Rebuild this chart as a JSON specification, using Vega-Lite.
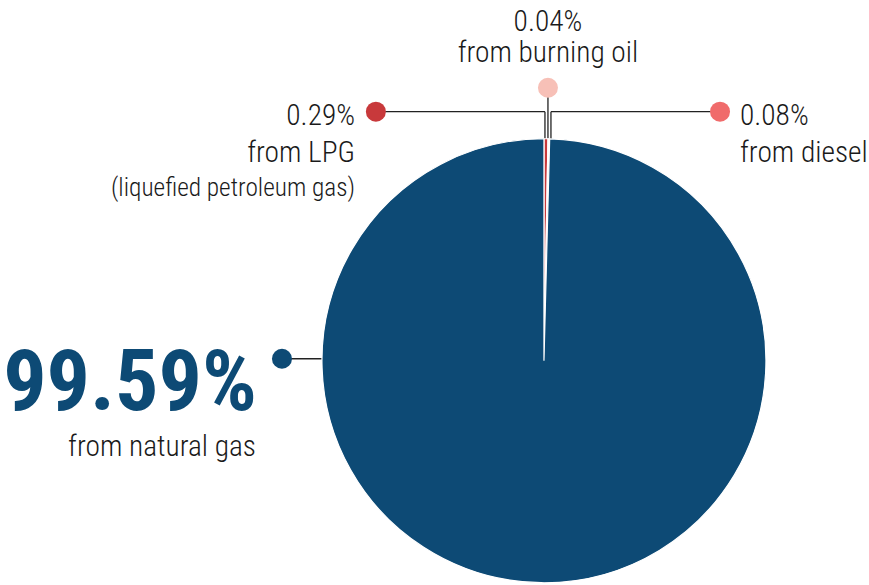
{
  "$schema": "https://vega.github.io/schema/vega-lite/v6.json",
  "width": 869,
  "height": 585,
  "autosize": {"type": "fit", "contains": "padding"},
  "padding": 0,
  "background": "white",
  "config": {"view": {"stroke": null}, "text": {"font": "Roboto Condensed, Liberation Sans Narrow, Roboto"}},
  "layer": [
    {
      "data": {"values": [
        {"x1": -0.757, "y1": 1.126, "x2": 0.0045, "y2": 1.126},
        {"x1": 0.0045, "y1": 1.126, "x2": 0.0045, "y2": 0.99},
        {"x1": 0.018, "y1": 1.234, "x2": 0.018, "y2": 0.99},
        {"x1": 0.793, "y1": 1.126, "x2": 0.0315, "y2": 1.126},
        {"x1": 0.0315, "y1": 1.126, "x2": 0.0315, "y2": 0.99},
        {"x1": -1.18, "y1": 0.009, "x2": -1.0, "y2": 0.009}
      ]},
      "mark": {"type": "rule", "color": "#222222", "strokeWidth": 1.3},
      "encoding": {
        "x": {"field": "x1", "type": "quantitative", "scale": {"domain": [-2.45, 1.464], "nice": false, "zero": false}, "axis": null},
        "y": {"field": "y1", "type": "quantitative", "scale": {"domain": [-1.005, 1.631], "nice": false, "zero": false}, "axis": null},
        "x2": {"field": "x2"},
        "y2": {"field": "y2"}
      }
    },
    {
      "data": {"values": [
        {"source": "LPG", "share": 0.29, "rank": 1},
        {"source": "diesel", "share": 0.08, "rank": 2},
        {"source": "burning oil", "share": 0.04, "rank": 3},
        {"source": "natural gas", "share": 99.59, "rank": 4}
      ]},
      "mark": {"type": "arc", "radius": 222, "stroke": "white", "strokeWidth": 1.2},
      "encoding": {
        "theta": {"field": "share", "type": "quantitative", "stack": true},
        "order": {"field": "rank", "type": "quantitative"},
        "color": {"field": "source", "type": "nominal", "legend": null,
          "scale": {"domain": ["LPG", "diesel", "burning oil", "natural gas"], "range": ["#c8393b", "#f06b6b", "#f7c0b7", "#0d4a75"]}},
        "x": {"datum": 0, "type": "quantitative", "scale": {"domain": [-2.45, 1.464], "nice": false, "zero": false}, "axis": null},
        "y": {"datum": 0, "type": "quantitative", "scale": {"domain": [-1.005, 1.631], "nice": false, "zero": false}, "axis": null}
      }
    },
    {
      "data": {"values": [
        {"source": "LPG", "x": -0.757, "y": 1.126},
        {"source": "burning oil", "x": 0.018, "y": 1.234},
        {"source": "diesel", "x": 0.793, "y": 1.126},
        {"source": "natural gas", "x": -1.18, "y": 0.009}
      ]},
      "mark": {"type": "point", "filled": true, "opacity": 1, "size": 400, "shape": "circle"},
      "encoding": {
        "x": {"field": "x", "type": "quantitative", "axis": null},
        "y": {"field": "y", "type": "quantitative", "axis": null},
        "color": {"field": "source", "type": "nominal", "legend": null}
      }
    },
    {
      "data": {"values": [
        {"label": "0.04%", "x": 0.018, "y": 1.49},
        {"label": "from burning oil", "x": 0.018, "y": 1.351}
      ]},
      "mark": {"type": "text", "align": "center", "baseline": "alphabetic", "fontSize": 29.4, "fontWeight": 300, "color": "#1a1a1a"},
      "encoding": {
        "x": {"field": "x", "type": "quantitative", "axis": null},
        "y": {"field": "y", "type": "quantitative", "axis": null},
        "text": {"field": "label"}
      }
    },
    {
      "data": {"values": [
        {"label": "0.29%", "x": -0.851, "y": 1.068},
        {"label": "from LPG", "x": -0.851, "y": 0.898},
        {"label": "from natural gas", "x": -1.297, "y": -0.432}
      ]},
      "mark": {"type": "text", "align": "right", "baseline": "alphabetic", "fontSize": 29.4, "fontWeight": 300, "color": "#1a1a1a"},
      "encoding": {
        "x": {"field": "x", "type": "quantitative", "axis": null},
        "y": {"field": "y", "type": "quantitative", "axis": null},
        "text": {"field": "label"}
      }
    },
    {
      "data": {"values": [
        {"label": "(liquefied petroleum gas)", "x": -0.851, "y": 0.743}
      ]},
      "mark": {"type": "text", "align": "right", "baseline": "alphabetic", "fontSize": 25.3, "fontWeight": 300, "color": "#1a1a1a"},
      "encoding": {
        "x": {"field": "x", "type": "quantitative", "axis": null},
        "y": {"field": "y", "type": "quantitative", "axis": null},
        "text": {"field": "label"}
      }
    },
    {
      "data": {"values": [
        {"label": "0.08%", "x": 0.883, "y": 1.068},
        {"label": "from diesel", "x": 0.883, "y": 0.898}
      ]},
      "mark": {"type": "text", "align": "left", "baseline": "alphabetic", "fontSize": 29.4, "fontWeight": 300, "color": "#1a1a1a"},
      "encoding": {
        "x": {"field": "x", "type": "quantitative", "axis": null},
        "y": {"field": "y", "type": "quantitative", "axis": null},
        "text": {"field": "label"}
      }
    },
    {
      "data": {"values": [
        {"label": "99.59%", "x": -1.293, "y": -0.224}
      ]},
      "mark": {"type": "text", "align": "right", "baseline": "alphabetic", "fontSize": 86, "fontWeight": "bold", "color": "#0d4a75"},
      "encoding": {
        "x": {"field": "x", "type": "quantitative", "axis": null},
        "y": {"field": "y", "type": "quantitative", "axis": null},
        "text": {"field": "label"}
      }
    }
  ]
}
